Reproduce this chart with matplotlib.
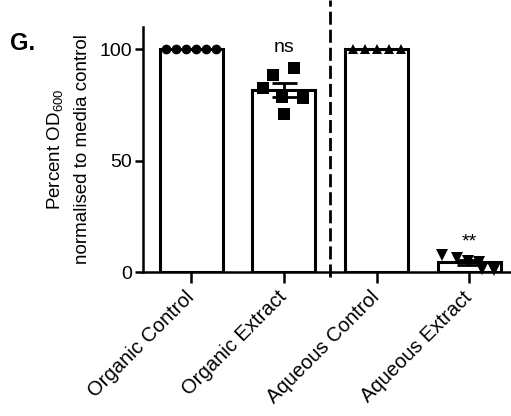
import numpy as np
import matplotlib
matplotlib.use('Agg')
import matplotlib.pyplot as plt

plt.rcParams['font.family'] = ['Liberation Sans', 'DejaVu Sans']
plt.rcParams['mathtext.fontset'] = 'custom'
plt.rcParams['mathtext.rm'] = 'Liberation Sans'

# du lieu doc tu hinh
nhom = ['Organic Control', 'Organic Extract', 'Aqueous Control', 'Aqueous Extract']
org_control = [100, 100, 100, 100, 100, 100]
org_extract = [88.5, 91.5, 82.5, 78.5, 78, 71]
aq_control = [100, 100, 100, 100, 100]
aq_extract = [7.5, 6.5, 5, 4.5, 1.5, 1]
nhan_sao = ['', 'ns', '', '**']

du_lieu = [org_control, org_extract, aq_control, aq_extract]
ky_hieu = ['o', 's', '^', 'v']
co_diem = [7, 8.5, 7, 8]
# vi tri ngang cua cac diem trong moi cot (de chong khong bi de len nhau)
lech = [np.linspace(-0.27, 0.27, 6),
        [-0.12, 0.11, -0.23, -0.02, 0.21, 0.0],
        np.linspace(-0.26, 0.26, 5),
        [-0.29, -0.13, -0.01, 0.11, 0.14, 0.27]]
# do cao dat chu ns / ** (duong chan chu)
cao_nhan = [0, 99, 0, 11.5]

fig = plt.figure(figsize=(5.11, 4.16), dpi=100)
ax = fig.add_axes([0.28, 0.346, 0.72, 0.589])

x = np.arange(len(nhom))
tb = [np.mean(d) for d in du_lieu]
sem = [np.std(d, ddof=1) / np.sqrt(len(d)) for d in du_lieu]

ax.bar(x, tb, width=0.68, color='white', edgecolor='black', linewidth=2.2, zorder=1)

for i, d in enumerate(du_lieu):
    ax.plot(i + np.array(lech[i]), d, ky_hieu[i], color='black', ms=co_diem[i],
            markeredgewidth=0, clip_on=False, zorder=3)
    if sem[i] > 0:
        ax.errorbar(i, tb[i], yerr=sem[i], color='black', capsize=9, capthick=2,
                    elinewidth=2, zorder=4)
        ax.plot([i - 0.2, i + 0.2], [tb[i], tb[i]], color='black', lw=2, zorder=4)
    if nhan_sao[i]:
        ax.text(i, cao_nhan[i], nhan_sao[i], ha='center', va='baseline', fontsize=14)

# duong net dut chia hai nhom
ax.plot([1.5, 1.5], [-2.3, 122], color='black', lw=2, dashes=(4.7, 1.8),
        dash_capstyle='butt', clip_on=False, zorder=5)

ax.set_xlim(-0.52, 3.45)
ax.set_ylim(0, 110)
ax.set_yticks([0, 50, 100])
ax.set_xticks(x)
ax.set_xticklabels(nhom, rotation=45, ha='right', va='center',
                   rotation_mode='anchor', fontsize=14.5)
ax.tick_params(axis='y', labelsize=14, width=1.8, length=6, pad=2)
ax.tick_params(axis='x', width=1.8, length=8, pad=8)
ax.spines['top'].set_visible(False)
ax.spines['right'].set_visible(False)
ax.spines['left'].set_linewidth(1.8)
ax.spines['bottom'].set_linewidth(1.8)
ax.set_ylabel('Percent OD$_{600}$\nnormalised to media control', fontsize=13.5,
              linespacing=1.6, labelpad=6)

fig.text(0.02, 0.88, 'G.', fontsize=17, fontweight='bold')

fig.savefig('out.png', dpi=100)
